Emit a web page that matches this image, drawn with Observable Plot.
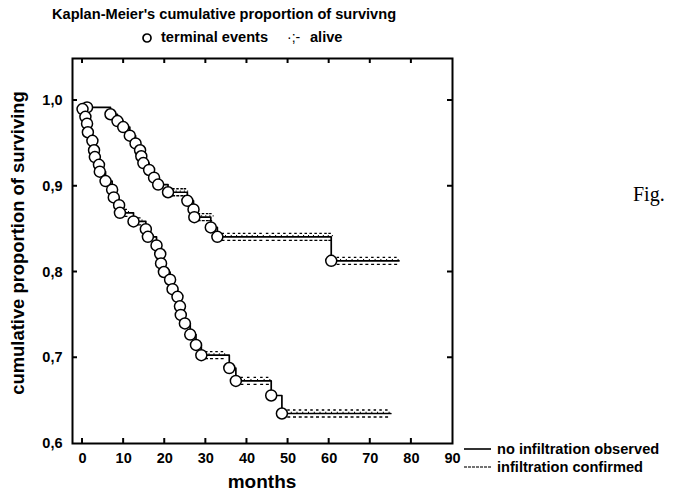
<!DOCTYPE html>
<html>
<head>
<meta charset="utf-8">
<script src="https://cdn.jsdelivr.net/npm/d3@7"></script>
<script src="https://cdn.jsdelivr.net/npm/@observablehq/plot@0.6"></script>
<style>
  html, body { margin: 0; padding: 0; background: #fff; }
  #wrap { position: relative; width: 676px; height: 493px; font-family: "Liberation Sans", Arial, sans-serif; color: #000; }
  .t { position: absolute; font-weight: bold; white-space: nowrap; line-height: 1; }
</style>
</head>
<body>
<div id="wrap"></div>
<script>
// ---- data ----
const title = "Kaplan-Meier's cumulative proportion of survivng";
const groups = ["no infiltration observed", "infiltration confirmed"];

// group 1: no infiltration observed — event times (months) and survival after event
const noInfTime = [1.1, 6.8, 8.5, 9.9, 11.5, 12.9, 14.0, 14.3, 14.8, 16.2, 17.4, 18.4, 20.8, 25.5, 27.0, 27.2, 31.2, 32.8, 60.5];
const noInfSurv = [0.992, 0.984, 0.976, 0.969, 0.959, 0.950, 0.942, 0.935, 0.927, 0.919, 0.910, 0.902, 0.893, 0.883, 0.873, 0.864, 0.852, 0.841, 0.813];
const noInfEnd = 77;
// censored (alive) marks
const noInfCensT = [21.8, 22.8, 23.8, 24.6, 28.0, 29.0, 30.0, 30.8, 33.8, 35.2, 36.5, 37.8, 39.0, 40.3, 41.6, 43.0, 44.6, 46.0, 47.4, 48.8, 50.2, 51.5, 52.8, 54.0, 55.2, 56.4, 57.6, 58.8, 59.8, 61.8, 63.2, 64.6, 66.0, 67.4, 68.8, 70.2, 71.6, 73.0, 74.4, 75.8];
const noInfCensS = [0.893, 0.893, 0.893, 0.893, 0.864, 0.864, 0.864, 0.864, 0.841, 0.841, 0.841, 0.841, 0.841, 0.841, 0.841, 0.841, 0.841, 0.841, 0.841, 0.841, 0.841, 0.841, 0.841, 0.841, 0.841, 0.841, 0.841, 0.841, 0.841, 0.813, 0.813, 0.813, 0.813, 0.813, 0.813, 0.813, 0.813, 0.813, 0.813, 0.813];

// group 2: infiltration confirmed
const infTime = [0.0, 0.7, 1.1, 1.3, 2.4, 2.8, 3.0, 4.0, 4.2, 5.6, 7.2, 7.6, 8.9, 9.1, 12.4, 15.4, 15.9, 18.0, 18.9, 19.1, 19.8, 21.3, 21.9, 23.1, 23.7, 23.9, 24.9, 26.2, 27.6, 28.9, 35.7, 37.3, 45.9, 48.5];
const infSurv = [0.990, 0.981, 0.973, 0.963, 0.953, 0.942, 0.934, 0.925, 0.917, 0.906, 0.896, 0.887, 0.878, 0.869, 0.859, 0.850, 0.841, 0.831, 0.821, 0.810, 0.800, 0.791, 0.780, 0.771, 0.760, 0.750, 0.740, 0.727, 0.715, 0.703, 0.688, 0.673, 0.656, 0.635];
const infEnd = 75;
const infCensT = [10.2, 13.5, 29.8, 31.0, 32.3, 33.6, 38.4, 40.0, 41.6, 43.2, 44.6, 49.8, 51.2, 52.6, 54.0, 55.4, 56.8, 58.2, 59.6, 61.0, 62.4, 63.8, 65.2, 66.6, 68.0, 69.4, 70.8, 72.2, 73.6];
const infCensS = [0.869, 0.859, 0.703, 0.703, 0.703, 0.703, 0.673, 0.673, 0.673, 0.673, 0.673, 0.635, 0.635, 0.635, 0.635, 0.635, 0.635, 0.635, 0.635, 0.635, 0.635, 0.635, 0.635, 0.635, 0.635, 0.635, 0.635, 0.635, 0.635];

const xTicks = [0, 10, 20, 30, 40, 50, 60, 70, 80, 90];
const yTicks = [0.6, 0.7, 0.8, 0.9, 1.0];

// ---- build tables ----
const ev1 = noInfTime.map((t, i) => ({t, s: noInfSurv[i]}));
const ev2 = infTime.map((t, i) => ({t, s: infSurv[i]}));
const line1 = [...ev1, {t: noInfEnd, s: noInfSurv[noInfSurv.length - 1]}];
const line2 = [...ev2, {t: infEnd, s: infSurv[infSurv.length - 1]}];
const cens = [
  ...noInfCensT.map((t, i) => ({t, s: noInfCensS[i]})),
  ...infCensT.map((t, i) => ({t, s: infCensS[i]}))
];

// censored marker "·;-": short dashes just above and below the line
const censSymbol = {
  draw(ctx) {
    ctx.moveTo(0, -3.5); ctx.lineTo(2.5, -3.5);
    ctx.moveTo(0, 3.5); ctx.lineTo(3, 3.5);
    ctx.moveTo(3.5, -1.2); ctx.lineTo(4.5, -1.2);
  }
};

const font = "Liberation Sans, Arial, sans-serif";
const fmt = d => d3.format(".1f")(d).replace(".", ",");
const chart = Plot.plot({
  width: 676,
  height: 493,
  marginLeft: 72,
  marginRight: 224,
  marginTop: 58,
  marginBottom: 50,
  style: {fontFamily: font, fontWeight: "bold", fontSize: "14.5px", background: "white", color: "black"},
  x: {domain: [-2.44, 90], label: null},
  y: {domain: [0.6, 1.049], label: null},
  marks: [
    Plot.axisX({ticks: xTicks, tickSize: 0, tickPadding: 9, label: null, fontWeight: "bold", fontSize: 14.5}),
    Plot.axisY({ticks: yTicks, tickSize: 0, tickPadding: 10, label: null, fontWeight: "bold", fontSize: 14.5, tickFormat: fmt}),
    Plot.frame({stroke: "black", strokeWidth: 2}),
    Plot.line(line1, {x: "t", y: "s", curve: "step-after", stroke: "black", strokeWidth: 1.7}),
    Plot.line(line2, {x: "t", y: "s", curve: "step-after", stroke: "black", strokeWidth: 1.7}),
    Plot.dot(cens, {x: "t", y: "s", symbol: censSymbol, r: 3, fill: "none", stroke: "black", strokeWidth: 1.3}),
    Plot.dot(ev1, {x: "t", y: "s", r: 5.5, fill: "white", stroke: "black", strokeWidth: 1.5}),
    Plot.dot(ev2, {x: "t", y: "s", r: 5.5, fill: "white", stroke: "black", strokeWidth: 1.5})
  ]
});

// inward ticks drawn with the plot's own scales
const sx = chart.scale("x"), sy = chart.scale("y");
const ns = "http://www.w3.org/2000/svg";
const tg = document.createElementNS(ns, "g");
tg.setAttribute("stroke", "black");
tg.setAttribute("stroke-width", "2");
function seg(x1, y1, x2, y2) {
  const l = document.createElementNS(ns, "line");
  l.setAttribute("x1", x1); l.setAttribute("y1", y1); l.setAttribute("x2", x2); l.setAttribute("y2", y2);
  tg.appendChild(l);
}
const yTop = sy.apply(1.049), yBot = sy.apply(0.6), xL = sx.apply(-2.44), xR = sx.apply(90);
xTicks.forEach(v => { const x = sx.apply(v); if (v < 90) { seg(x, yBot, x, yBot - 5); seg(x, yTop, x, yTop + 5); } });
yTicks.forEach(v => { const y = sy.apply(v); if (v > 0.6) { seg(xL, y, xL + 5, y); seg(xR, y, xR - 5, y); } });
chart.appendChild(tg);

const wrap = document.getElementById("wrap");
wrap.appendChild(chart);
chart.style.position = "absolute";
chart.style.left = "0"; chart.style.top = "0";

function addText(txt, css) {
  const d = document.createElement("div");
  d.className = "t";
  d.textContent = txt;
  Object.assign(d.style, css);
  wrap.appendChild(d);
  return d;
}
addText(title, {left: "52px", top: "7px", fontSize: "14.6px"});
// legend circle symbol
{
  const s = document.createElementNS(ns, "svg");
  s.setAttribute("width", 12); s.setAttribute("height", 12);
  s.style.position = "absolute"; s.style.left = "141px"; s.style.top = "32px";
  const c = document.createElementNS(ns, "circle");
  c.setAttribute("cx", 6); c.setAttribute("cy", 6); c.setAttribute("r", 4);
  c.setAttribute("fill", "white"); c.setAttribute("stroke", "black"); c.setAttribute("stroke-width", 1.7);
  s.appendChild(c);
  wrap.appendChild(s);
}
addText("terminal events", {left: "161px", top: "30px", fontSize: "14.6px"});
addText("·;-", {left: "287px", top: "30px", fontSize: "14px", fontWeight: "normal"});
addText("alive", {left: "310px", top: "30px", fontSize: "14.6px"});
addText("cumulative proportion of surviving", {left: "18px", top: "243px", fontSize: "18.4px", transform: "translate(-50%,-50%) rotate(-90deg)"});
addText("months", {left: "262px", top: "481px", fontSize: "19px", transform: "translate(-50%,-50%)"});
addText("Fig.", {left: "633px", top: "184px", fontSize: "20px", fontWeight: "normal", fontFamily: "Liberation Serif, Times New Roman, serif"});
// group legend
const lg = [
  {label: groups[0], top: 442, dash: "none", color: "#000"},
  {label: groups[1], top: 460, dash: "3,1", color: "#444"}
];
lg.forEach(g => {
  const s = document.createElementNS(ns, "svg");
  s.setAttribute("width", 27); s.setAttribute("height", 6);
  s.style.position = "absolute"; s.style.left = "464px"; s.style.top = (g.top + 4) + "px";
  const l = document.createElementNS(ns, "line");
  l.setAttribute("x1", 0); l.setAttribute("x2", 27); l.setAttribute("y1", 3); l.setAttribute("y2", 3);
  l.setAttribute("stroke", g.color); l.setAttribute("stroke-width", 1.6);
  if (g.dash !== "none") l.setAttribute("stroke-dasharray", g.dash);
  s.appendChild(l);
  wrap.appendChild(s);
  addText(g.label, {left: "497px", top: g.top + "px", fontSize: "14.6px"});
});
</script>
</body>
</html>
